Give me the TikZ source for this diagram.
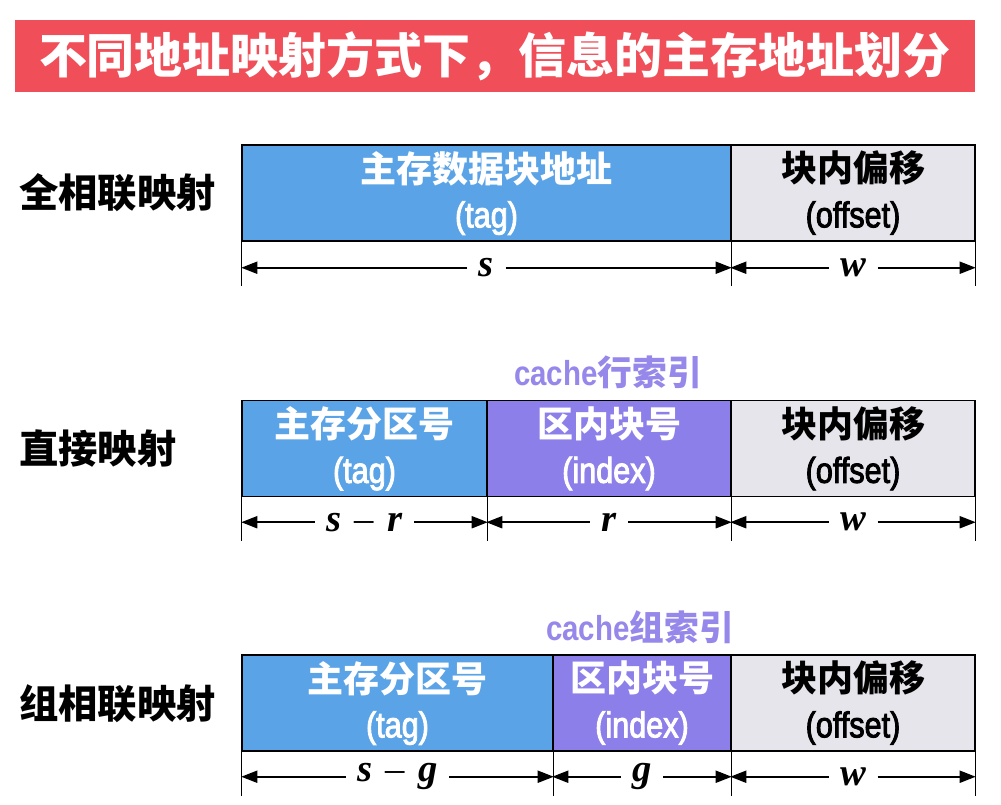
\documentclass[tikz,border=0pt]{standalone}
\usepackage{fontspec}
\usetikzlibrary{arrows.meta,calc}
\newfontfamily\cjk{Noto Sans CJK SC}
\newfontfamily\latc[FakeStretch=0.85,FakeBold=2.5]{Liberation Sans}
\newfontfamily\latcb[FakeStretch=0.85]{Liberation Sans}
\newfontfamily\dimf{Liberation Serif}
\definecolor{titlered}{RGB}{240,78,88}
\definecolor{cellblue}{RGB}{91,163,231}
\definecolor{cellpurple}{RGB}{141,127,234}
\definecolor{cellgray}{RGB}{229,229,235}
\definecolor{idxtext}{RGB}{150,136,234}
\newcommand\cn[1]{{\cjk\bfseries #1}}
\newcommand\la[1]{{\latc #1}}
\newcommand\mn{\hspace{10pt}{\mdseries\upshape –}\hspace{10pt}}
\tikzset{
  cell/.style={draw=black, line width=1.1pt, minimum height=72pt, inner sep=0pt, align=center,
    font=\fontsize{27}{34}\selectfont},
  wcell/.style={cell, text=white},
  rowlab/.style={anchor=west, inner sep=0pt, font=\cjk\bfseries\fontsize{29.5}{34}\selectfont},
  idxlab/.style={inner sep=0pt, text=idxtext, font=\fontsize{26}{30}\selectfont},
  dimlab/.style={inner sep=8.5pt, font=\dimf\bfseries\itshape\fontsize{29}{30}\selectfont},
  tickline/.style={line width=1.1pt},
  dimarrow/.style={line width=1.4pt, -{Triangle[length=12pt,width=9pt]}},
}
\begin{document}
\begin{tikzpicture}[x=0.75pt,y=-0.75pt]
\useasboundingbox (0,0) rectangle (1001,805);
\fill[white] (0,0) rectangle (1001,805);

% title
\node[fill=titlered, minimum width=720pt, minimum height=54pt, inner sep=0pt, text=white,
  font=\cjk\bfseries\fontsize{36}{40}\selectfont] (title) at (495,56) {不同地址映射方式下，信息的主存地址划分};

% row labels
\node[rowlab] (l1) at (19,193) {全相联映射};
\node[rowlab] (l2) at (19,449) {直接映射};
\node[rowlab] (l3) at (19,704) {组相联映射};

% row 1
\node[wcell, fill=cellblue, minimum width=366.75pt] (r1t) at (486.5,193) {\cn{主存数据块地址}\\\la{(tag)}};
\node[cell, fill=cellgray, minimum width=183pt] (r1o) at (853,193) {\cn{块内偏移}\\\la{(offset)}};

% row 2
\node[idxlab] (i2) at (608,372) {{\latcb\bfseries cache}\cn{行索引}};
\node[wcell, fill=cellblue, minimum width=183.75pt] (r2t) at (364.5,448.5) {\cn{主存分区号}\\\la{(tag)}};
\node[wcell, fill=cellpurple, minimum width=183pt] (r2i) at (609,448.5) {\cn{区内块号}\\\la{(index)}};
\node[cell, fill=cellgray, minimum width=183pt] (r2o) at (853,448.5) {\cn{块内偏移}\\\la{(offset)}};

% row 3
\node[idxlab] (i3) at (640,627) {{\latcb\bfseries cache}\cn{组索引}};
\node[wcell, fill=cellblue, minimum width=233.25pt] (r3t) at (397.5,703) {\cn{主存分区号}\\\la{(tag)}};
\node[wcell, fill=cellpurple, minimum width=133.5pt] (r3i) at (642,703) {\cn{区内块号}\\\la{(index)}};
\node[cell, fill=cellgray, minimum width=183pt] (r3o) at (853,703) {\cn{块内偏移}\\\la{(offset)}};

% ticks
\foreach \c in {r1t.south west, r1t.south east, r1o.south east,
                r2t.south west, r2t.south east, r2i.south east, r2o.south east,
                r3t.south west, r3t.south east, r3i.south east, r3o.south east}
  \draw[tickline] (\c) -- ++(0,44);

% dimension labels
\node[dimlab] (d1s) at ($(r1t.south)+(0,26)$) {s};
\node[dimlab] (d1w) at ($(r1o.south)+(0,26)$) {w};
\node[dimlab] (d2s) at ($(r2t.south)+(0,25)$) {s\mn r};
\node[dimlab] (d2r) at ($(r2i.south)+(0,25)$) {r};
\node[dimlab] (d2w) at ($(r2o.south)+(0,25)$) {w};
\node[dimlab] (d3s) at ($(r3t.south)+(0,25)$) {s\mn g};
\node[dimlab] (d3g) at ($(r3i.south)+(0,25)$) {g};
\node[dimlab] (d3w) at ($(r3o.south)+(0,25)$) {w};

% dimension arrows
\foreach \lab/\l/\r in {d1s/r1t.south west/r1t.south east, d1w/r1o.south west/r1o.south east,
                        d2s/r2t.south west/r2t.south east, d2r/r2i.south west/r2i.south east, d2w/r2o.south west/r2o.south east,
                        d3s/r3t.south west/r3t.south east, d3g/r3i.south west/r3i.south east, d3w/r3o.south west/r3o.south east}
{
  \draw[dimarrow] (\lab.west) -- (\lab.west -| \l);
  \draw[dimarrow] (\lab.east) -- (\lab.east -| \r);
}
\end{tikzpicture}
\end{document}
